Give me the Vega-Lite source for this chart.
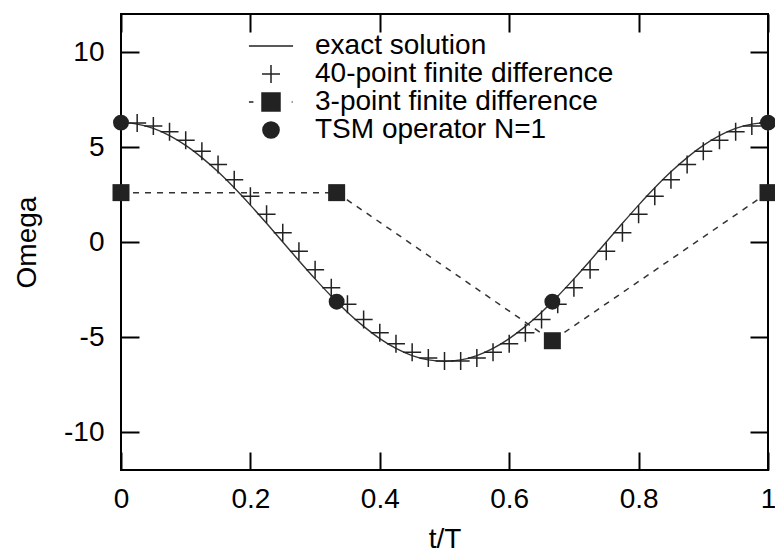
{
  "$schema": "https://vega.github.io/schema/vega-lite/v6.json",
  "width": 647,
  "height": 456,
  "autosize": {"type": "none"},
  "padding": {"left": 121, "top": 14, "right": 7, "bottom": 82},
  "background": "white",
  "config": {
    "view": {"stroke": "black", "strokeWidth": 2},
    "font": "Liberation Sans",
    "axis": {
      "domain": false,
      "grid": false,
      "tickColor": "black",
      "tickWidth": 2,
      "tickSize": -18,
      "labelFont": "Liberation Sans",
      "labelFontSize": 28,
      "labelColor": "black",
      "labelFlush": false,
      "labelOverlap": false,
      "titleFont": "Liberation Sans",
      "titleFontSize": 28,
      "titleFontWeight": "normal",
      "titleColor": "black"
    },
    "legend": {
      "orient": "none",
      "legendX": 136,
      "legendY": 18,
      "padding": 0,
      "labelFont": "Liberation Sans",
      "labelFontSize": 28,
      "labelColor": "black",
      "labelOffset": 30,
      "labelLimit": 500,
      "rowPadding": 0,
      "symbolSize": 324,
      "symbolStrokeWidth": 1.5,
      "symbolOpacity": 1
    }
  },
  "datasets": {
    "exact": [
      {"t": 0, "omega": 6.2832}, {"t": 0.025, "omega": 6.2058}, {"t": 0.05, "omega": 5.9757},
      {"t": 0.075, "omega": 5.5984}, {"t": 0.1, "omega": 5.0832}, {"t": 0.125, "omega": 4.4429},
      {"t": 0.15, "omega": 3.6932}, {"t": 0.175, "omega": 2.8525}, {"t": 0.2, "omega": 1.9416},
      {"t": 0.225, "omega": 0.9829}, {"t": 0.25, "omega": 0}, {"t": 0.275, "omega": -0.9829},
      {"t": 0.3, "omega": -1.9416}, {"t": 0.325, "omega": -2.8525}, {"t": 0.35, "omega": -3.6932},
      {"t": 0.375, "omega": -4.4429}, {"t": 0.4, "omega": -5.0832}, {"t": 0.425, "omega": -5.5984},
      {"t": 0.45, "omega": -5.9757}, {"t": 0.475, "omega": -6.2058}, {"t": 0.5, "omega": -6.2832},
      {"t": 0.525, "omega": -6.2058}, {"t": 0.55, "omega": -5.9757}, {"t": 0.575, "omega": -5.5984},
      {"t": 0.6, "omega": -5.0832}, {"t": 0.625, "omega": -4.4429}, {"t": 0.65, "omega": -3.6932},
      {"t": 0.675, "omega": -2.8525}, {"t": 0.7, "omega": -1.9416}, {"t": 0.725, "omega": -0.9829},
      {"t": 0.75, "omega": 0}, {"t": 0.775, "omega": 0.9829}, {"t": 0.8, "omega": 1.9416},
      {"t": 0.825, "omega": 2.8525}, {"t": 0.85, "omega": 3.6932}, {"t": 0.875, "omega": 4.4429},
      {"t": 0.9, "omega": 5.0832}, {"t": 0.925, "omega": 5.5984}, {"t": 0.95, "omega": 5.9757},
      {"t": 0.975, "omega": 6.2058}, {"t": 1, "omega": 6.2832}
    ],
    "fd40": [
      {"t": 0.025, "omega": 6.257}, {"t": 0.05, "omega": 6.103}, {"t": 0.075, "omega": 5.799},
      {"t": 0.1, "omega": 5.352}, {"t": 0.125, "omega": 4.773}, {"t": 0.15, "omega": 4.076},
      {"t": 0.175, "omega": 3.28}, {"t": 0.2, "omega": 2.402}, {"t": 0.225, "omega": 1.465},
      {"t": 0.25, "omega": 0.492}, {"t": 0.275, "omega": -0.492}, {"t": 0.3, "omega": -1.465},
      {"t": 0.325, "omega": -2.402}, {"t": 0.35, "omega": -3.28}, {"t": 0.375, "omega": -4.076},
      {"t": 0.4, "omega": -4.773}, {"t": 0.425, "omega": -5.352}, {"t": 0.45, "omega": -5.799},
      {"t": 0.475, "omega": -6.103}, {"t": 0.5, "omega": -6.257}, {"t": 0.525, "omega": -6.257},
      {"t": 0.55, "omega": -6.103}, {"t": 0.575, "omega": -5.799}, {"t": 0.6, "omega": -5.352},
      {"t": 0.625, "omega": -4.773}, {"t": 0.65, "omega": -4.076}, {"t": 0.675, "omega": -3.28},
      {"t": 0.7, "omega": -2.402}, {"t": 0.725, "omega": -1.465}, {"t": 0.75, "omega": -0.492},
      {"t": 0.775, "omega": 0.492}, {"t": 0.8, "omega": 1.465}, {"t": 0.825, "omega": 2.402},
      {"t": 0.85, "omega": 3.28}, {"t": 0.875, "omega": 4.076}, {"t": 0.9, "omega": 4.773},
      {"t": 0.925, "omega": 5.352}, {"t": 0.95, "omega": 5.799}, {"t": 0.975, "omega": 6.103},
      {"t": 1, "omega": 6.257}
    ],
    "fd3": [
      {"t": 0, "omega": 2.598}, {"t": 0.3333, "omega": 2.598},
      {"t": 0.6667, "omega": -5.196}, {"t": 1, "omega": 2.598}
    ],
    "tsm": [
      {"t": 0, "omega": 6.2832}, {"t": 0.3333, "omega": -3.1416},
      {"t": 0.6667, "omega": -3.1416}, {"t": 1, "omega": 6.2832}
    ],
    "legendrows": [
      {"t": 0.5, "omega": 0, "series": "exact solution"},
      {"t": 0.5, "omega": 0, "series": "40-point finite difference"},
      {"t": 0.5, "omega": 0, "series": "3-point finite difference"},
      {"t": 0.5, "omega": 0, "series": "TSM operator N=1"}
    ]
  },
  "resolve": {"axis": {"x": "independent", "y": "independent"}},
  "layer": [
    {
      "mark": {"type": "rule", "color": "#333333", "strokeWidth": 1.3},
      "encoding": {
        "y": {"datum": 0, "type": "quantitative", "scale": {"domain": [-12, 12]}, "axis": null}
      }
    },
    {
      "data": {"name": "exact"},
      "mark": {"type": "line", "color": "#333333", "strokeWidth": 1.4, "interpolate": "monotone"},
      "encoding": {
        "x": {"field": "t", "type": "quantitative", "scale": {"domain": [0, 1], "nice": false},
              "axis": {"orient": "bottom", "values": [0, 0.2, 0.4, 0.6, 0.8, 1], "labelExpr": "'' + datum.value", "labelPadding": 33, "title": "t/T", "titlePadding": 12}},
        "y": {"field": "omega", "type": "quantitative", "scale": {"domain": [-12, 12], "nice": false},
              "axis": {"orient": "left", "values": [-10, -5, 0, 5, 10], "labelExpr": "'' + datum.value", "labelPadding": 35, "title": "Omega", "titlePadding": 22}}
      }
    },
    {
      "data": {"name": "fd3"},
      "mark": {"type": "line", "color": "#333333", "strokeWidth": 1.5, "strokeDash": [6, 6]},
      "encoding": {
        "x": {"field": "t", "type": "quantitative", "axis": null},
        "y": {"field": "omega", "type": "quantitative", "axis": null}
      }
    },
    {
      "data": {"name": "fd40"},
      "mark": {"type": "point", "shape": "M-1,0H1M0,-1V1", "filled": false, "stroke": "#222222", "strokeWidth": 1.5, "size": 324, "opacity": 1},
      "encoding": {
        "x": {"field": "t", "type": "quantitative", "axis": null},
        "y": {"field": "omega", "type": "quantitative", "axis": null}
      }
    },
    {
      "data": {"name": "fd3"},
      "mark": {"type": "point", "shape": "square", "filled": true, "color": "#222222", "size": 289, "opacity": 1},
      "encoding": {
        "x": {"field": "t", "type": "quantitative", "axis": null},
        "y": {"field": "omega", "type": "quantitative", "axis": null}
      }
    },
    {
      "data": {"name": "tsm"},
      "mark": {"type": "point", "shape": "circle", "filled": true, "color": "#222222", "size": 254, "opacity": 1},
      "encoding": {
        "x": {"field": "t", "type": "quantitative",
              "axis": {"orient": "top", "values": [0, 0.2, 0.4, 0.6, 0.8, 1], "labels": false, "title": null}},
        "y": {"field": "omega", "type": "quantitative",
              "axis": {"orient": "right", "values": [-10, -5, 0, 5, 10], "labels": false, "title": null}}
      }
    },
    {
      "data": {"name": "legendrows"},
      "mark": {"type": "point", "strokeWidth": 1.5, "opacity": 0},
      "encoding": {
        "x": {"field": "t", "type": "quantitative", "axis": null},
        "y": {"field": "omega", "type": "quantitative", "axis": null},
        "shape": {
          "field": "series", "type": "nominal",
          "scale": {
            "domain": ["exact solution", "40-point finite difference", "3-point finite difference", "TSM operator N=1"],
            "range": ["M-2.45,0H2.45", "M-1,0H1M0,-1V1", "M-2.45,0H-1.95M-1,-1H1V1H-1ZM2.3,0H2.4", "M-0.9,0A0.9,0.9,0,1,1,0.9,0A0.9,0.9,0,1,1,-0.9,0Z"]
          },
          "legend": {"title": null, "labelLimit": 500}
        },
        "fill": {
          "field": "series", "type": "nominal",
          "scale": {
            "domain": ["exact solution", "40-point finite difference", "3-point finite difference", "TSM operator N=1"],
            "range": ["transparent", "transparent", "#222222", "#222222"]
          },
          "legend": {"title": null, "labelLimit": 500}
        },
        "stroke": {
          "field": "series", "type": "nominal",
          "scale": {
            "domain": ["exact solution", "40-point finite difference", "3-point finite difference", "TSM operator N=1"],
            "range": ["#222222", "#222222", "#222222", "#222222"]
          },
          "legend": {"title": null, "labelLimit": 500}
        }
      }
    }
  ]
}
